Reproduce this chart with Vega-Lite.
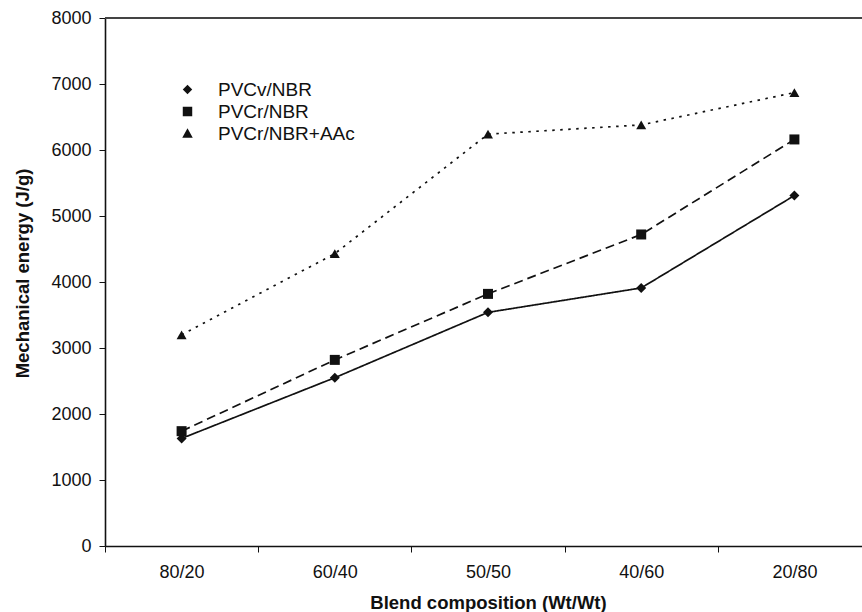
{
  "$schema": "https://vega.github.io/schema/vega-lite/v6.json",
  "width": 757,
  "height": 528,
  "autosize": {"type": "none"},
  "padding": {"left": 105, "top": 18, "right": 0, "bottom": 66},
  "background": "white",
  "config": {
    "view": {"stroke": null},
    "font": "Liberation Sans",
    "axis": {
      "domainColor": "#111",
      "domainWidth": 1.6,
      "tickColor": "#111",
      "tickWidth": 1,
      "tickSize": 6,
      "labelColor": "#111",
      "labelFont": "Liberation Sans",
      "labelFontSize": 18,
      "titleColor": "#111",
      "titleFont": "Liberation Sans",
      "titleFontSize": 18.5,
      "titleFontWeight": "bold",
      "grid": false
    }
  },
  "data": {
    "values": [
      {"blend": "80/20", "series": "PVCv/NBR", "energy": 1630},
      {"blend": "60/40", "series": "PVCv/NBR", "energy": 2550},
      {"blend": "50/50", "series": "PVCv/NBR", "energy": 3540},
      {"blend": "40/60", "series": "PVCv/NBR", "energy": 3910},
      {"blend": "20/80", "series": "PVCv/NBR", "energy": 5310},
      {"blend": "80/20", "series": "PVCr/NBR", "energy": 1740},
      {"blend": "60/40", "series": "PVCr/NBR", "energy": 2820},
      {"blend": "50/50", "series": "PVCr/NBR", "energy": 3820},
      {"blend": "40/60", "series": "PVCr/NBR", "energy": 4720},
      {"blend": "20/80", "series": "PVCr/NBR", "energy": 6160},
      {"blend": "80/20", "series": "PVCr/NBR+AAc", "energy": 3200},
      {"blend": "60/40", "series": "PVCr/NBR+AAc", "energy": 4430},
      {"blend": "50/50", "series": "PVCr/NBR+AAc", "energy": 6240},
      {"blend": "40/60", "series": "PVCr/NBR+AAc", "energy": 6380},
      {"blend": "20/80", "series": "PVCr/NBR+AAc", "energy": 6870}
    ]
  },
  "layer": [
    {
      "mark": {"type": "rule", "color": "#444", "strokeWidth": 1.3},
      "encoding": {
        "y": {"datum": 8000, "type": "quantitative", "scale": {"domain": [0, 8000], "nice": false, "zero": true}}
      }
    },
    {
      "mark": {"type": "line", "color": "#111", "strokeWidth": 1.7},
      "encoding": {
        "x": {
          "field": "blend", "type": "nominal",
          "scale": {"type": "band", "domain": ["80/20", "60/40", "50/50", "40/60", "20/80"], "range": [0, 766], "paddingInner": 0, "paddingOuter": 0},
          "axis": {"title": "Blend composition (Wt/Wt)", "labelAngle": 0, "tickBand": "extent", "labelPadding": 11, "titleBaseline": "alphabetic", "titleY": 62}
        },
        "y": {
          "field": "energy", "type": "quantitative",
          "scale": {"domain": [0, 8000], "nice": false, "zero": true},
          "axis": {"title": "Mechanical energy (J/g)", "values": [0, 1000, 2000, 3000, 4000, 5000, 6000, 7000, 8000], "format": "d", "labelPadding": 8, "titleBaseline": "alphabetic", "titleX": -77, "titleY": 255}
        },
        "strokeDash": {
          "field": "series", "type": "nominal",
          "scale": {"domain": ["PVCv/NBR", "PVCr/NBR", "PVCr/NBR+AAc"], "range": [[1, 0], [9, 5], [2.5, 5.5]]},
          "legend": null
        }
      }
    },
    {
      "mark": {"type": "point", "filled": true, "color": "#111", "opacity": 1, "size": 100},
      "encoding": {
        "x": {"field": "blend", "type": "nominal"},
        "y": {"field": "energy", "type": "quantitative"},
        "shape": {
          "field": "series", "type": "nominal",
          "scale": {"domain": ["PVCv/NBR", "PVCr/NBR", "PVCr/NBR+AAc"], "range": ["diamond", "square", "triangle-up"]},
          "legend": null
        }
      }
    },
    {
      "mark": {"type": "point", "filled": true, "color": "#111", "opacity": 0, "size": 441},
      "encoding": {
        "x": {"field": "blend", "type": "nominal"},
        "y": {"field": "energy", "type": "quantitative"},
        "shape": {
          "field": "series", "type": "nominal",
          "scale": {
            "domain": ["PVCv/NBR", "PVCr/NBR", "PVCr/NBR+AAc"],
            "range": [
              "M-2.29,0L2.29,0M0,-0.45L0.45,0L0,0.45L-0.45,0Z",
              "M-2.19,0L-1.43,0M1.33,0L2.1,0M-0.45,-0.45L0.45,-0.45L0.45,0.45L-0.45,0.45Z",
              "M-2.2,0L-2.0,0M-1.53,0L-1.33,0M1.24,0L1.44,0M1.9,0L2.1,0M0,-0.5L0.5,0.4L-0.5,0.4Z"
            ]
          },
          "legend": {
            "title": null,
            "orient": "none",
            "legendX": 71,
            "legendY": 60,
            "padding": 0,
            "rowPadding": 0,
            "symbolSize": 441,
            "symbolOpacity": 1,
            "symbolFillColor": "#111",
            "symbolStrokeColor": "#111",
            "symbolStrokeWidth": 1.4,
            "labelFont": "Liberation Sans",
            "labelFontSize": 19,
            "labelColor": "#111",
            "labelOffset": 19
          }
        }
      }
    }
  ],
  "resolve": {"scale": {"shape": "independent"}, "legend": {"shape": "independent"}}
}
